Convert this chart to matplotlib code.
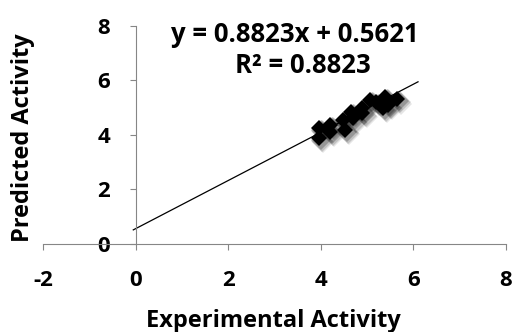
import matplotlib
matplotlib.use("Agg")
import matplotlib.pyplot as plt
import matplotlib.transforms as mtransforms
import numpy as np

plt.rcParams['font.family'] = ['Open Sans', 'DejaVu Sans']
plt.rcParams['axes.unicode_minus'] = False

# data
experimental = [3.96, 3.96, 4.19, 4.19, 4.48, 4.52, 4.66, 4.70, 4.88, 4.90,
                5.06, 5.20, 5.34, 5.38, 5.45, 5.64]
predicted = [4.25, 3.90, 4.36, 4.10, 4.54, 4.18, 4.85, 4.60, 5.00, 4.80,
             5.27, 5.20, 5.00, 5.38, 5.10, 5.30]
slope = 0.8823
intercept = 0.5621
r_squared = 0.8823
trend_x = [-0.05, 6.1]

x_ticks = [-2, 0, 2, 4, 6, 8]
y_ticks = [0, 2, 4, 6, 8]

fig = plt.figure(figsize=(5.15, 3.32), dpi=100)
ax = fig.add_axes([0.0835, 0.265, 0.899, 0.6576])

tx = np.array(trend_x)
ax.plot(tx, slope * tx + intercept, color='black', lw=0.9, zorder=2)

# soft drop shadow under the markers
for dx, a in [(3, 0.10), (2.2, 0.15), (1.4, 0.22)]:
    shift = mtransforms.offset_copy(ax.transData, fig=fig, x=dx, y=-dx, units='points')
    ax.plot(experimental, predicted, linestyle='none', marker='D', ms=8.5 + dx,
            color='black', alpha=a, mew=0, transform=shift, zorder=2.5)
ax.plot(experimental, predicted, linestyle='none', marker='D', ms=8.2,
        color='black', mew=0, zorder=3)

ax.set_xlim(-2, 8)
ax.set_ylim(0, 8)
ax.set_xticks(x_ticks)
ax.set_yticks(y_ticks)

gray = '#868686'
for s in ['top', 'right']:
    ax.spines[s].set_visible(False)
ax.spines['left'].set_position(('data', 0))
ax.spines['left'].set_color(gray)
ax.spines['bottom'].set_color(gray)
ax.tick_params(axis='both', direction='out', length=4.5, color=gray,
               labelsize=16)
ax.tick_params(axis='x', pad=14.5)
ax.tick_params(axis='y', pad=14)
for lab in ax.get_xticklabels() + ax.get_yticklabels():
    lab.set_fontweight('bold')

fig.text(0.530, 0.0136, 'Experimental Activity', fontsize=17,
         fontweight='bold', ha='center', va='baseline')
fig.text(0.045, 0.586, 'Predicted Activity', rotation=90, fontsize=17,
         fontweight='bold', ha='center', va='center')

ax.text(3.43, 7.41, f'y = {slope}x + {intercept}', fontsize=18.5,
        fontweight='bold', ha='center', va='baseline')
ax.text(3.61, 6.26, f'R² = {r_squared}', fontsize=18.5,
        fontweight='bold', ha='center', va='baseline')

fig.savefig('out.png', dpi=100)
